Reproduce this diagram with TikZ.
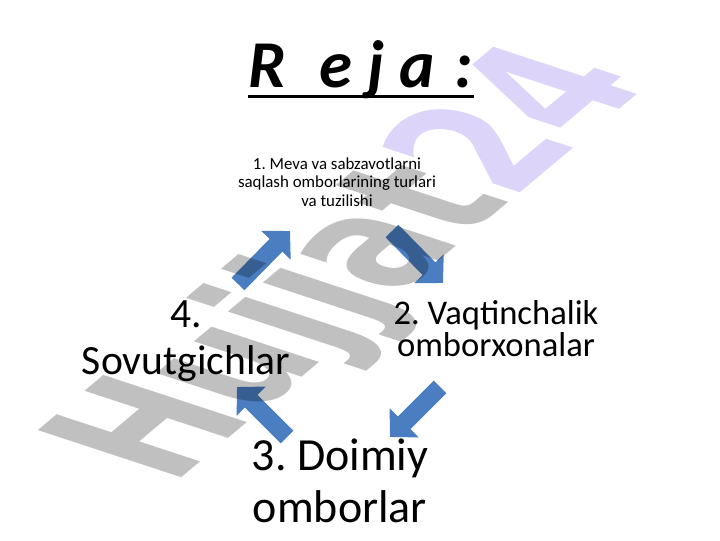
\documentclass[tikz,border=0pt]{standalone}
\usepackage{fontspec}
\setmainfont{Carlito}
\newfontfamily\wmfont{DejaVu Sans}
\usetikzlibrary{arrows.meta}
\frenchspacing

\definecolor{arrowblue}{RGB}{74,126,193}
\definecolor{wmgray}{RGB}{192,192,192}
\definecolor{wmlav}{RGB}{221,212,250}

\tikzset{
	bigarrow/.style={arrowblue, line width=0.45cm, -{Triangle[length=0.5cm, width=1cm]}},
	item/.style={align=center, inner sep=0pt}
}

\begin{document}
\begin{tikzpicture}[x=0.025cm, y=0.025cm]
			\useasboundingbox[fill=white] (0,0) rectangle (720,540);

			\node[anchor=base, inner sep=0pt, font=\bfseries\itshape\fontsize{47.6}{50}\selectfont] (reja) at (361,452) {R \hspace{0.45cm}e j a \hspace{0.12cm}:};
			\draw[line width=0.085cm] ([yshift=-0.22cm]reja.base west) -- ([yshift=-0.22cm]reja.base east);

			\node[item, font=\fontsize{12}{13.2}\selectfont] (1) at (337,358) {1. Meva va sabzavotlarni\\saqlash omborlarining turlari\\va tuzilishi};
			\node[item, font=\fontsize{24.6}{22.8}\selectfont] (2) at (496,211) {2. Vaqtinchalik\\omborxonalar};
			\node[item, font=\fontsize{32.7}{37}\selectfont] (3) at (340,59) {3. Doimiy\\omborlar};
			\node[item, font=\fontsize{29.6}{33.4}\selectfont] (4) at (186,199) {4.\\Sovutgichlar};

			\coordinate (4-1) at (238,256);
			\coordinate (1-4) at (290,309);
			\coordinate (1-2) at (392,309);
			\coordinate (2-1) at (443,257);
			\coordinate (2-3) at (440,153);
			\coordinate (3-2) at (390,103);
			\coordinate (3-4) at (287,103);
			\coordinate (4-3) at (237,153);

			\draw[bigarrow] (4-1) -- (1-4);
			\draw[bigarrow] (1-2) -- (2-1);
			\draw[bigarrow] (2-3) -- (3-2);
			\draw[bigarrow] (3-4) -- (4-3);

			% watermark
			\begin{scope}[blend mode=multiply]
				\node[anchor=base west, inner sep=0pt, cm={0.714,0.601,-1.40,0.46,(0,0)}, transform shape,
					font=\wmfont\bfseries\fontsize{100}{100}\selectfont, text=wmgray] (wm) at (172,54) {Hujjat\textcolor{wmlav}{24}};
			\end{scope}
		\end{tikzpicture}
\end{document}
